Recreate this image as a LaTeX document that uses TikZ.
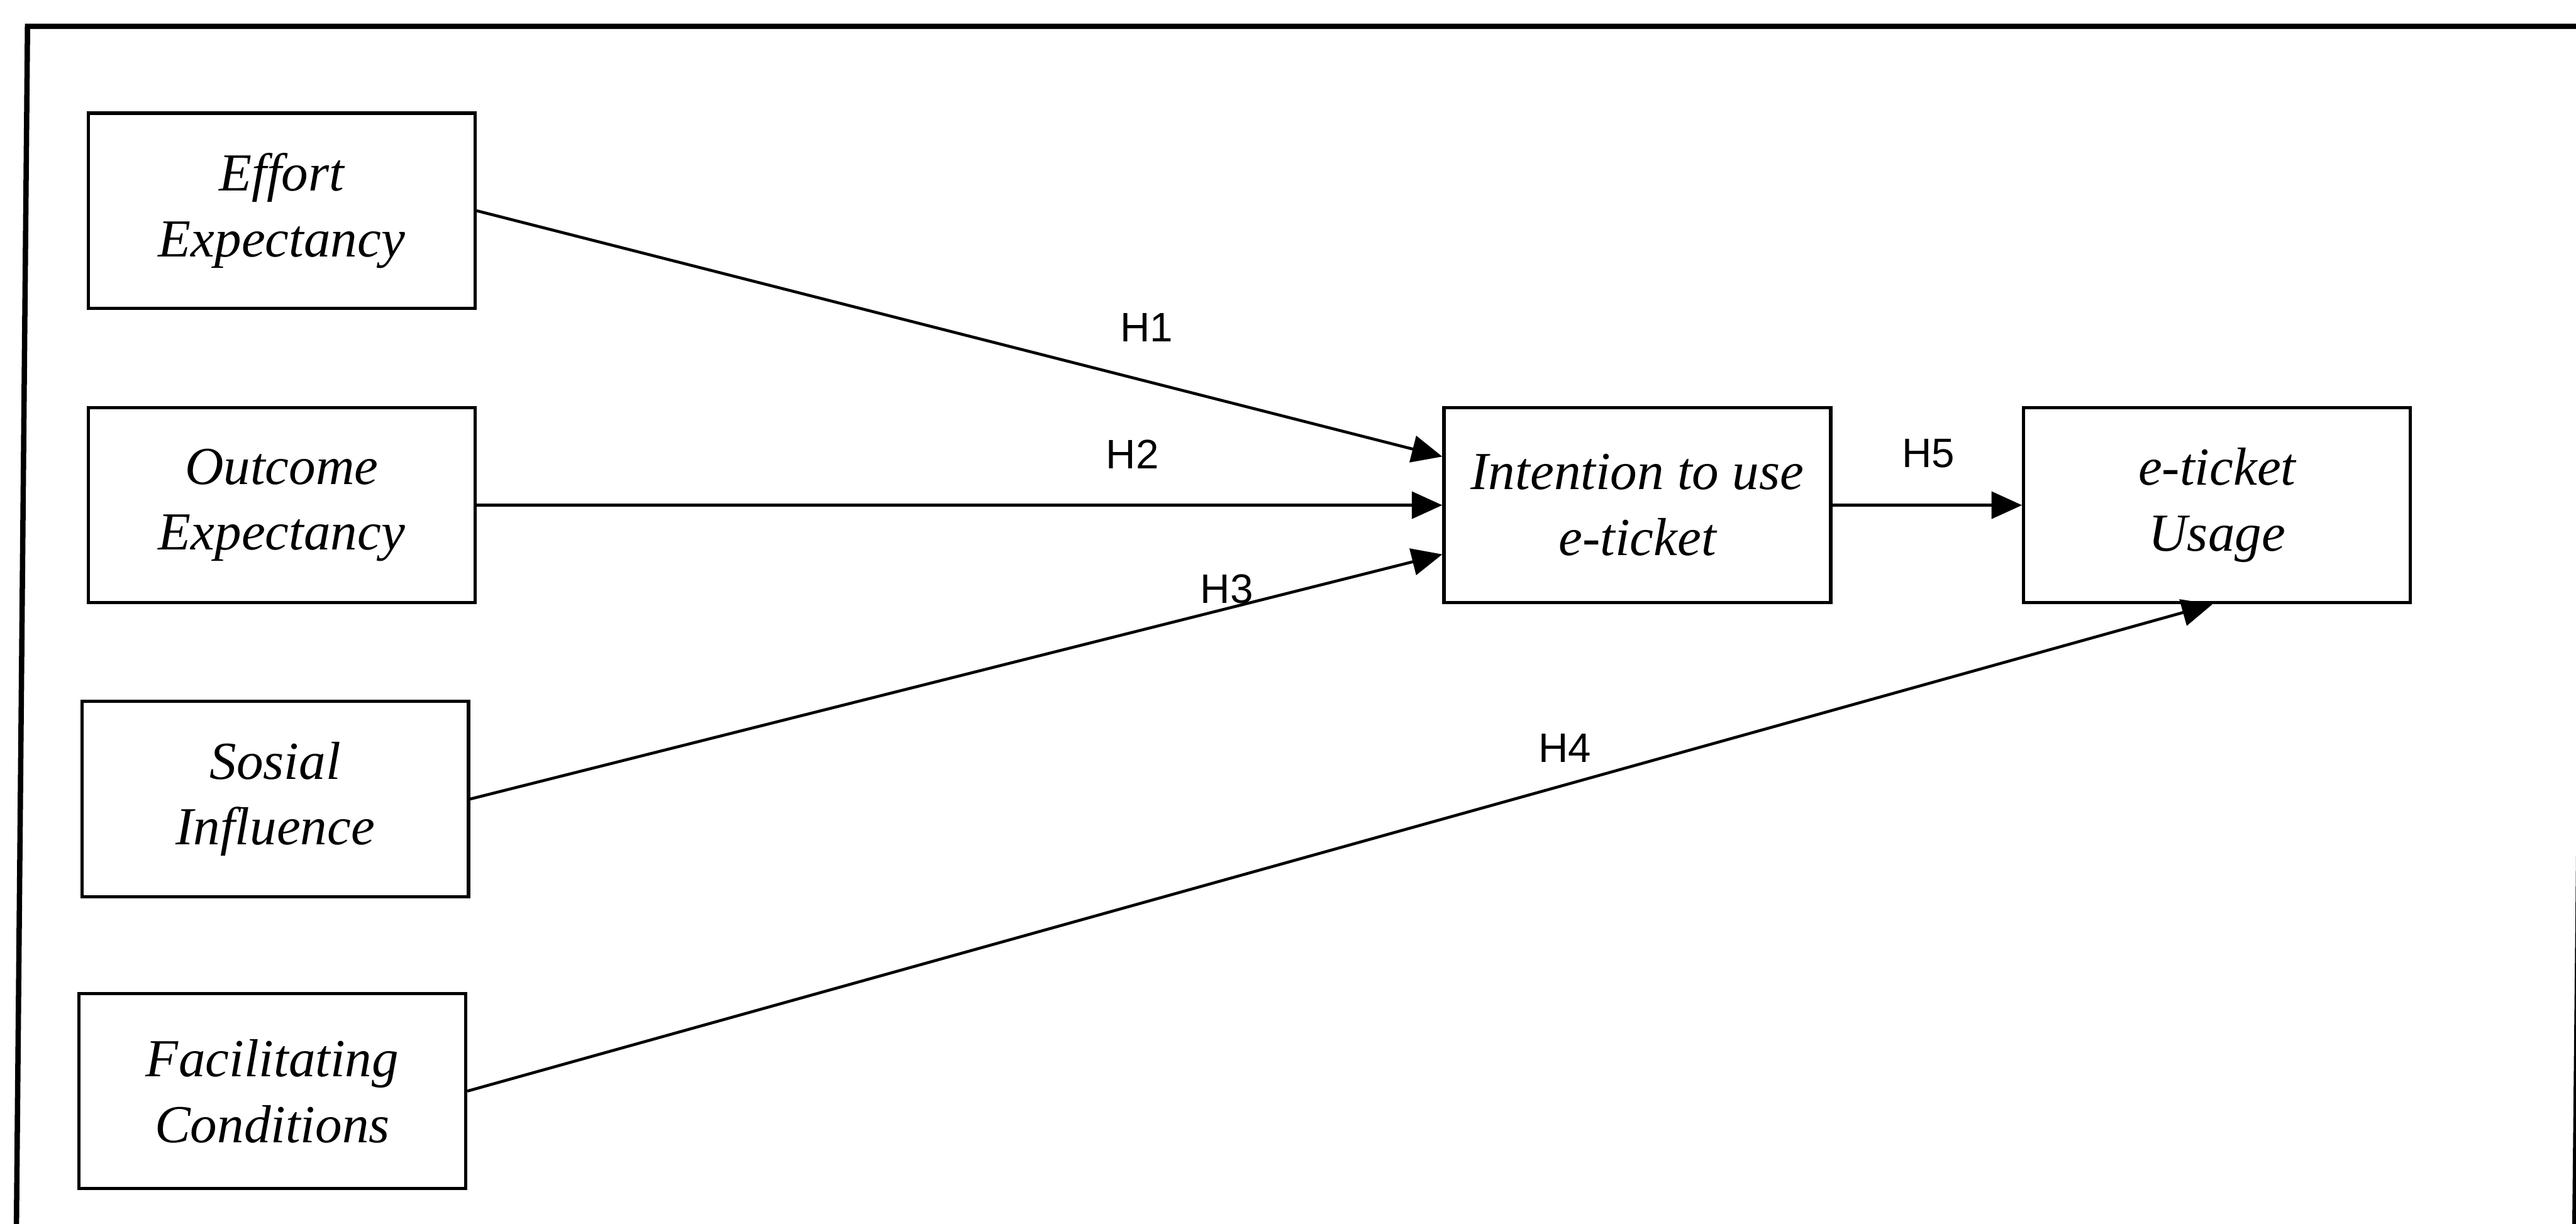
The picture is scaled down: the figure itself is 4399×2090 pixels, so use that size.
\documentclass[tikz,border=0pt]{standalone}
\usepackage{fontspec}
\setmainfont{Liberation Serif}
\newfontfamily\labelfont{Liberation Sans}
\usetikzlibrary{arrows.meta,calc}
\begin{document}
\begin{tikzpicture}[x=0.01cm,y=-0.01cm,
  box/.style={draw,line width=1.6pt,minimum width=6.6cm,minimum height=3.33cm,
    inner sep=0pt,align=center,font=\fontsize{26}{32}\selectfont\itshape},
  arr/.style={line width=1.4pt,-{Triangle[length=0.52cm,width=0.46cm]}},
  hlab/.style={font=\labelfont\fontsize{20}{24}\selectfont,inner sep=0pt},
  frameline/.style={line width=2.6pt}]
\useasboundingbox (0,0) rectangle (4399,2090);
\fill[white] (0,0) rectangle (4399,2090);
\clip (0,0) rectangle (4399,2090);
% outer frame
\draw[frameline] (4430,45) -- (47,45) -- (28,2100);
\draw[frameline] (4418,45) -- (4397,2100);
% boxes
\node[box] (E) at (481,360) {Effort\\Expectancy};
\node[box] (O) at (481,863) {Outcome\\Expectancy};
\node[box] (S) at (470,1365) {Sosial\\Influence};
\node[box] (F) at (465,1864) {Facilitating\\Conditions};
\node[box] (I) at (2796,863) {Intention to use\\e-ticket};
\node[box] (U) at (3786,863) {e-ticket\\Usage};
% connectors
\draw[arr] (E.east) -- ($(I.west)+(0,-83)$);
\draw[arr] (O.east) -- (I.west);
\draw[arr] (S.east) -- ($(I.west)+(0,84)$);
\draw[arr] (F.east) -- ($(U.south)+(-8,0)$);
\draw[arr] (I.east) -- (U.west);
% labels
\node[hlab] (h1) at (1958,560) {H1};
\node[hlab] (h2) at (1934,776) {H2};
\node[hlab] (h3) at (2095,1006) {H3};
\node[hlab] (h4) at (2672,1278) {H4};
\node[hlab] (h5) at (3293,775) {H5};
\end{tikzpicture}
\end{document}
